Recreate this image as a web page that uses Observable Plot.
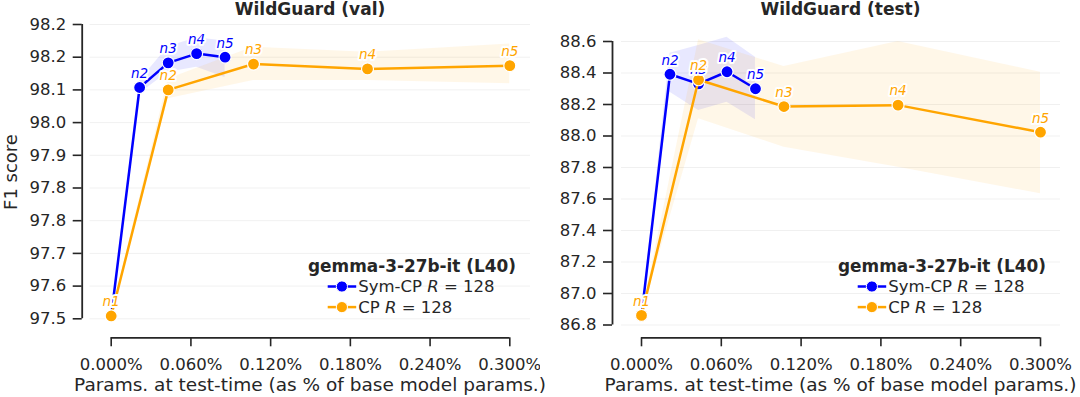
<!DOCTYPE html>
<html><head><meta charset="utf-8">
<script src="https://cdn.jsdelivr.net/npm/d3@7"></script>
<script src="https://cdn.jsdelivr.net/npm/@observablehq/plot@0.6"></script>
<style>
body{margin:0;background:#fff;}
#wrap{position:relative;width:1080px;height:397px;display:flex;}
#wrap > svg{flex:none;}
#overlay{position:absolute;left:0;top:0;pointer-events:none;}
</style></head><body><div id="wrap"></div>
<script>
// ---- data ----
const nLabels = ["n1", "n2", "n3", "n4", "n5"];
const symX = [0, 0.0214, 0.0429, 0.0643, 0.0857];
const cpX  = [0, 0.0429, 0.1071, 0.1929, 0.3];

const symVal   = [97.517, 98.083, 98.144, 98.167, 98.158];
const symValLo = [97.517, 98.068, 98.121, 98.133, 98.108];
const symValHi = [97.517, 98.100, 98.184, 98.206, 98.198];
const cpVal    = [97.517, 98.077, 98.141, 98.129, 98.137];
const cpValLo  = [97.517, 98.055, 98.100, 98.100, 98.092];
const cpValHi  = [97.517, 98.104, 98.183, 98.170, 98.191];

const symTest   = [86.861, 88.392, 88.331, 88.408, 88.300];
const symTestLo = [86.861, 88.278, 88.162, 88.215, 88.103];
const symTestHi = [86.861, 88.526, 88.575, 88.627, 88.500];
const cpTest    = [86.861, 88.357, 88.187, 88.196, 88.024];
const cpTestLo  = [86.861, 88.109, 87.929, 87.802, 87.633];
const cpTestHi  = [86.861, 88.611, 88.441, 88.600, 88.405];

const xTicks  = [0, 0.06, 0.12, 0.18, 0.24, 0.30];
const xLabels = ["0.000%", "0.060%", "0.120%", "0.180%", "0.240%", "0.300%"];
const yTicksVal  = [97.51, 97.591, 97.672, 97.753, 97.834, 97.915, 97.996, 98.077, 98.158, 98.239];
const yLabelsVal = ["97.5", "97.6", "97.7", "97.8", "97.8", "97.9", "98.0", "98.1", "98.2", "98.2"];
const yTicksTest  = [86.8, 87.0, 87.2, 87.4, 87.6, 87.8, 88.0, 88.2, 88.4, 88.6];
const yLabelsTest = ["86.8", "87.0", "87.2", "87.4", "87.6", "87.8", "88.0", "88.2", "88.4", "88.6"];

const seriesNames = ["Sym-CP", "CP"];
const seriesColors = ["#0000ff", "#ffa500"];
const rankText = "128";
const titles = ["WildGuard (val)", "WildGuard (test)"];
const xTitle = "Params. at test-time (as % of base model params.)";
const yTitle = "F1 score";
const legendTitle = "gemma-3-27b-it (L40)";

const INK = "#262626";

function rows(xs, ys, lo, hi) {
  return xs.map((x, i) => ({x, y: ys[i], lo: lo[i], hi: hi[i], n: nLabels[i]}));
}

function panel(cfg) {
  const sym = rows(symX, cfg.sym, cfg.symLo, cfg.symHi);
  const cp = rows(cpX, cfg.cp, cfg.cpLo, cfg.cpHi);
  const spineX = cfg.xRange[0] - 29;
  const yt = cfg.yTicks;
  const marks = [Plot.gridY(yt, {stroke: "#000", strokeOpacity: 0.06, strokeWidth: 1, insetLeft: cfg.gridInset})];
  const groups = [[sym, seriesColors[0]], [cp, seriesColors[1]]];
  for (const [d, c] of groups) {
    marks.push(Plot.areaY(d, {x: "x", y1: "lo", y2: "hi", fill: c, fillOpacity: 0.09, curve: "linear"}));
  }
  for (const [d, c] of groups) {
    marks.push(
      Plot.lineY(d, {x: "x", y: "y", stroke: c, strokeWidth: 2.5}),
      Plot.dot(d, {x: "x", y: "y", r: 6, fill: c, stroke: "white", strokeWidth: 1.2})
    );
  }
  for (const [d, c] of groups) {
    marks.push(Plot.text(d === sym ? d.slice(1) : d, {
      x: "x", y: "y", text: "n", dy: -14, fill: c, stroke: "white", strokeWidth: 4,
      fontStyle: "italic", fontSize: 13.5
    }));
  }
  marks.push(
    Plot.axisY(yt, {tickFormat: v => cfg.yLabels[yt.indexOf(v)], tickSize: 9, tickPadding: 7,
      fontSize: 16.5, stroke: INK, strokeWidth: 1.6, label: null}),
    Plot.axisX(xTicks, {tickFormat: v => xLabels[xTicks.indexOf(v)], tickSize: 9, tickPadding: 11,
      fontSize: 16.5, stroke: INK, strokeWidth: 1.6, label: null}),
    Plot.ruleX([xTicks[0]], {y1: yt[0], y2: yt[yt.length - 1], dx: -29, stroke: INK, strokeWidth: 1.8}),
    Plot.ruleY([yt[0]], {x1: xTicks[0], x2: xTicks[xTicks.length - 1], dy: 337.3 - cfg.yRange[0], stroke: INK, strokeWidth: 1.8})
  );
  return Plot.plot({
    width: 540, height: 397,
    marginLeft: spineX, marginRight: cfg.mr, marginTop: 20, marginBottom: 59.7,
    x: {domain: [xTicks[0], xTicks[xTicks.length - 1]], range: cfg.xRange},
    y: {domain: [yt[0], yt[yt.length - 1]], range: cfg.yRange},
    style: {fontFamily: "DejaVu Sans", fontSize: "16px", color: INK, background: "white", overflow: "visible"},
    marks
  });
}

const wrap = document.getElementById("wrap");
wrap.appendChild(panel({
  sym: symVal, symLo: symValLo, symHi: symValHi, cp: cpVal, cpLo: cpValLo, cpHi: cpValHi,
  yTicks: yTicksVal, yLabels: yLabelsVal, xRange: [110.7, 509.3], yRange: [318.3, 24], gridInset: 7.8, mr: 10
}));
wrap.appendChild(panel({
  sym: symTest, symLo: symTestLo, symHi: symTestHi, cp: cpTest, cpLo: cpTestLo, cpHi: cpTestHi,
  yTicks: yTicksTest, yLabels: yLabelsTest, xRange: [101, 500], yRange: [324.5, 41], gridInset: 9, mr: 20
}));

// ---- overlay texts & legends ----
const ov = d3.select("#wrap").append("svg").attr("id", "overlay")
  .attr("width", 1080).attr("height", 397)
  .attr("font-family", "DejaVu Sans").attr("fill", INK);

const centers = [310, 840.5];
centers.forEach((cx, p) => {
  ov.append("text").attr("x", cx).attr("y", 14.5).attr("text-anchor", "middle")
    .attr("font-weight", "bold").attr("font-size", 17).text(titles[p]);
  ov.append("text").attr("x", cx).attr("y", 390.5).attr("text-anchor", "middle")
    .attr("font-size", 18.5).text(xTitle);
  const lx = 412 + p * 530;
  ov.append("text").attr("x", lx).attr("y", 271.5).attr("text-anchor", "middle")
    .attr("font-weight", "bold").attr("font-size", 16.9).text(legendTitle);
  seriesNames.forEach((name, i) => {
    const cy = 286.5 + i * 20.6;
    const hx = 327.7 + p * 530;
    ov.append("line").attr("x1", hx).attr("x2", hx + 28.5).attr("y1", cy).attr("y2", cy)
      .attr("stroke", seriesColors[i]).attr("stroke-width", 2.5);
    ov.append("circle").attr("cx", hx + 14.2).attr("cy", cy).attr("r", 5.6)
      .attr("fill", seriesColors[i]).attr("stroke", "white").attr("stroke-width", 1);
    const t = ov.append("text").attr("x", hx + 30.6).attr("y", cy + 5.8).attr("font-size", 16.5);
    t.append("tspan").text(name + " ");
    t.append("tspan").attr("font-style", "italic").text("R");
    t.append("tspan").text(" = " + rankText);
  });
});
ov.append("text").attr("transform", "translate(17,172) rotate(-90)").attr("text-anchor", "middle")
  .attr("font-size", 18).text(yTitle);
</script></body></html>
